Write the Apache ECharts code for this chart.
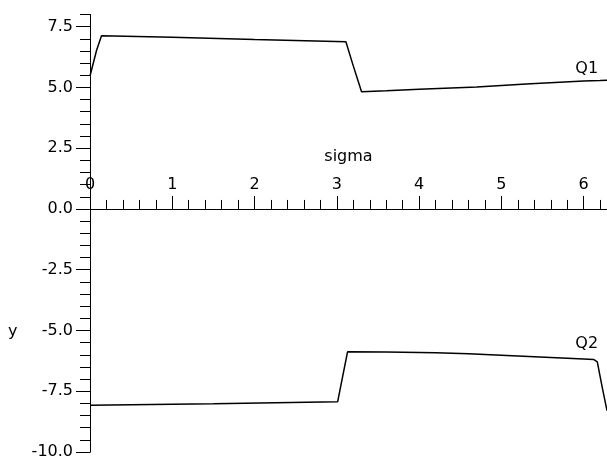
<!DOCTYPE html>
<html>
<head>
<meta charset="utf-8">
<title>Q1, Q2 vs sigma</title>
<script src="https://cdn.jsdelivr.net/npm/echarts@6/dist/echarts.min.js"></script>
<style>
  html, body { margin: 0; padding: 0; background: #fff; }
  #chart { width: 607px; height: 461px; }
</style>
</head>
<body>
<div id="chart"></div>
<script>
// Curve samples (sigma, value)
const sigmaQ1 = [0, 0.08, 0.14, 1.0, 2.0, 3.11, 3.19, 3.30, 3.6, 4.0, 4.7, 5.3, 6.0, 6.2, 6.283];
const valueQ1 = [5.47, 6.53, 7.13, 7.06, 6.97, 6.88, 5.99, 4.82, 4.86, 4.92, 5.02, 5.14, 5.26, 5.28, 5.29];
const sigmaQ2 = [0, 1.5, 3.01, 3.07, 3.13, 3.6, 4.2, 4.6, 5.0, 5.4, 5.8, 6.0, 6.12, 6.165, 6.225, 6.283];
const valueQ2 = [-8.08, -8.01, -7.93, -6.90, -5.88, -5.89, -5.92, -5.96, -6.02, -6.08, -6.14, -6.17, -6.19, -6.29, -7.34, -8.3];

// Axis ticks
const xMajorTicks = [0, 1, 2, 3, 4, 5, 6];
const yMajorTicks = [-10, -7.5, -5, -2.5, 0, 2.5, 5, 7.5];
const xRange = [0, 6.283];
const yRange = [-10, 8];
const xMinorStep = 0.2;
const yMinorStep = 0.5;

// Index of the sample each curve name sits above
const q1LabelIndex = 12;
const q2LabelIndex = 11;

function steps(lo, hi, step) {
  const out = [];
  for (let i = 0; lo + i * step <= hi + 1e-9; i++) out.push(+(lo + i * step).toFixed(4));
  return out;
}
const xMinorTicks = steps(0, 6.2, xMinorStep);
const yMinorTicks = steps(yRange[0], yRange[1], yMinorStep);

const FONT = 'DejaVu Sans';
const black = '#000';
const W = 607, H = 461;

// Plot box
const plot = { left: 90, right: -4.5, top: 14.5, bottom: 9 };
// The horizontal axis crosses at y = 0: a second box whose bottom edge is that line
const plotH = H - plot.top - plot.bottom;
const zeroY = plot.top + plotH * (yRange[1] - 0) / (yRange[1] - yRange[0]);

function pairs(xs, ys) { return xs.map((x, i) => [x, ys[i]]); }

const line = { show: true, onZero: false, lineStyle: { color: black, width: 1 } };
const textStyle = { fontFamily: FONT, fontSize: 16, color: black };

const chart = echarts.init(document.getElementById('chart'), null, { renderer: 'canvas' });

chart.setOption({
  animation: false,
  backgroundColor: '#fff',
  grid: [
    { left: plot.left, right: plot.right, top: plot.top, bottom: plot.bottom, containLabel: false },
    { left: plot.left, right: plot.right, top: plot.top, bottom: H - zeroY, containLabel: false }
  ],
  xAxis: [
    // data axis for the curves (hidden)
    {
      type: 'value', gridIndex: 0, min: xRange[0], max: xRange[1],
      axisLine: { show: false }, axisTick: { show: false }, axisLabel: { show: false }, splitLine: { show: false }
    },
    // drawn axis at y = 0: minor ticks + name
    {
      type: 'value', gridIndex: 1, min: xRange[0], max: xRange[1], position: 'bottom',
      axisLine: line,
      axisTick: { show: true, inside: true, length: 9, customValues: xMinorTicks, lineStyle: { color: black, width: 1 } },
      axisLabel: { show: false },
      splitLine: { show: false },
      name: 'sigma', nameLocation: 'middle', nameGap: -52,
      nameTextStyle: Object.assign({ verticalAlign: 'middle' }, textStyle)
    },
    // drawn axis at y = 0: major ticks + labels
    {
      type: 'value', gridIndex: 1, min: xRange[0], max: xRange[1], position: 'bottom',
      axisLine: line,
      axisTick: { show: true, inside: true, length: 13, customValues: xMajorTicks, lineStyle: { color: black, width: 1 } },
      axisLabel: Object.assign({
        show: true, inside: true, margin: 16, customValues: xMajorTicks,
        formatter: v => String(v)
      }, textStyle),
      splitLine: { show: false }
    }
  ],
  yAxis: [
    {
      type: 'value', gridIndex: 0, min: yRange[0], max: yRange[1], position: 'left', offset: 0,
      axisLine: line,
      axisTick: { show: true, length: 10, customValues: yMinorTicks, lineStyle: { color: black, width: 1 } },
      axisLabel: { show: false },
      splitLine: { show: false }
    },
    {
      type: 'value', gridIndex: 0, min: yRange[0], max: yRange[1], position: 'left', offset: 0,
      axisLine: line,
      axisTick: { show: true, length: 14, customValues: yMajorTicks, lineStyle: { color: black, width: 1 } },
      axisLabel: Object.assign({
        show: true, margin: 17, customValues: yMajorTicks,
        formatter: v => v.toFixed(1)
      }, textStyle),
      splitLine: { show: false }
    },
    // companion axis for the upper box (hidden)
    {
      type: 'value', gridIndex: 1, min: 0, max: yRange[1], position: 'left',
      axisLine: { show: false }, axisTick: { show: false }, axisLabel: { show: false }, splitLine: { show: false }
    }
  ],
  series: [
    {
      name: 'Q1', type: 'line', xAxisIndex: 0, yAxisIndex: 0,
      data: pairs(sigmaQ1, valueQ1),
      showSymbol: false, symbol: 'none',
      lineStyle: { color: black, width: 1.5 },
      markPoint: {
        symbol: 'circle', symbolSize: 0, silent: true,
        label: Object.assign({ show: true, position: 'top', distance: 4, offset: [3, 0], formatter: 'Q1' }, textStyle),
        data: [{ coord: [sigmaQ1[q1LabelIndex], valueQ1[q1LabelIndex]] }]
      }
    },
    {
      name: 'Q2', type: 'line', xAxisIndex: 0, yAxisIndex: 0,
      data: pairs(sigmaQ2, valueQ2),
      showSymbol: false, symbol: 'none',
      lineStyle: { color: black, width: 1.5 },
      markPoint: {
        symbol: 'circle', symbolSize: 0, silent: true,
        label: Object.assign({ show: true, position: 'top', distance: 7, offset: [3, 0], formatter: 'Q2' }, textStyle),
        data: [{ coord: [sigmaQ2[q2LabelIndex], valueQ2[q2LabelIndex]] }]
      }
    }
  ]
});

// Vertical-axis title "y", placed level with the -5 tick
const yTitleAt = chart.convertToPixel({ yAxisIndex: 0 }, -5.15);
chart.setOption({
  graphic: [{
    type: 'text', left: 8, top: yTitleAt - 10,
    style: { text: 'y', fontFamily: FONT, fontSize: 16, fill: black }
  }]
});
</script>
</body>
</html>
